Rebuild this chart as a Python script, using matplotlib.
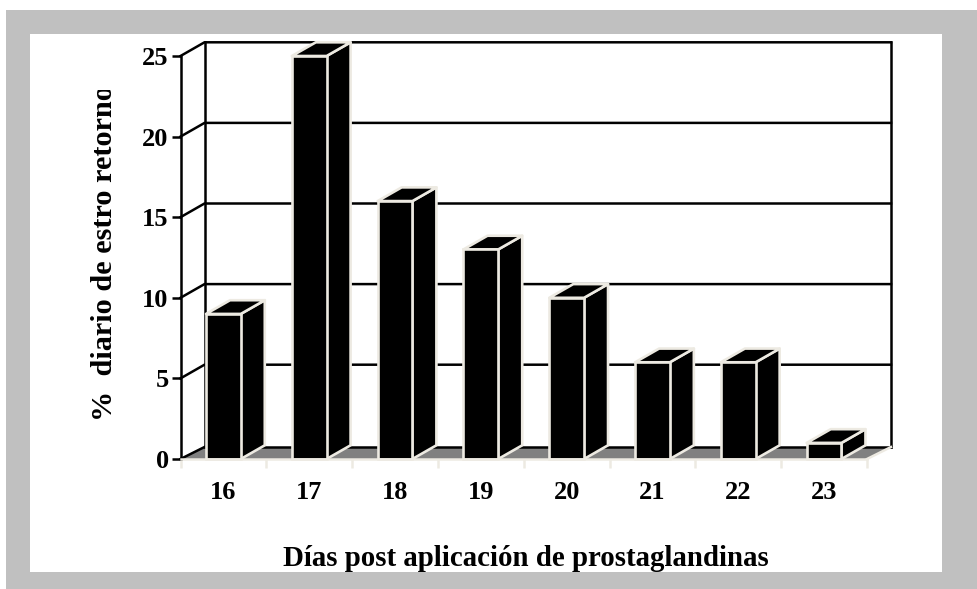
import matplotlib
matplotlib.use("Agg")
from matplotlib import pyplot
from matplotlib.patches import Rectangle
from matplotlib.transforms import Bbox

# chart values
days = ["16", "17", "18", "19", "20", "21", "22", "23"]
values = [9, 25, 16, 13, 10, 6, 6, 1]
yticks = [0, 5, 10, 15, 20, 25]
ylabel = "%  diario de estro retorno"
xlabel = "Días post aplicación de prostaglandinas"

W, H = 978, 589
CREAM = "#EDEAE2"
GREY = "#808080"
FRAME = "#C0C0C0"

pyplot.rcParams["font.family"] = ["Liberation Serif", "DejaVu Serif"]
pyplot.rcParams["font.weight"] = "bold"

figure = pyplot.figure(figsize=(W / 100, H / 100), dpi=100, facecolor="white")


def px_rect(x0, y0, x1, y1, color):
    # rectangle given in image pixels, y going down
    figure.patches.append(Rectangle((x0 / W, 1 - y1 / H), (x1 - x0) / W, (y1 - y0) / H,
                                    transform=figure.transFigure, facecolor=color,
                                    edgecolor="none", zorder=-5))


px_rect(6, 10, W, H, FRAME)
px_rect(30, 34, 942, 572, "white")

# axes are the front plane of the 3d box
left, right, bottom, top = 180.5, 867, 459, 56
axes = figure.add_axes([left / W, 1 - bottom / H, (right - left) / W, (bottom - top) / H])
axes.set_xlim(0, len(days))
axes.set_ylim(0, 25)
axes.patch.set_visible(False)

# depth of the box, in data units
dx = 24 / ((right - left) / len(days))
dy = 13.7 / ((bottom - top) / 25)
dy_floor = 12 / ((bottom - top) / 25)
n = len(days)
kw = dict(clip_on=False, solid_capstyle="projecting")
LW = 1.8

# floor
axes.fill([0, dx, n + dx, n], [0, dy_floor, dy_floor, 0], color=GREY, lw=0, clip_on=False, zorder=1)

# walls and grid
for t in yticks:
    if t > 0:
        axes.plot([0, dx, n + dx], [t, t + dy, t + dy], color="black", lw=LW, zorder=1.5, **kw)
    else:
        axes.plot([dx, n + dx], [dy_floor, dy_floor], color="black", lw=LW, zorder=1.5, **kw)
        axes.plot([0, dx], [0, dy_floor], color="black", lw=LW, zorder=1.5, **kw)
axes.plot([dx, dx], [dy_floor, 25 + dy], color="black", lw=LW, zorder=1.5, **kw)
axes.plot([n + dx, n + dx], [dy_floor, 25 + dy], color="black", lw=LW, zorder=1.5, **kw)
axes.plot([n, n + dx], [0, dy_floor], color=CREAM, lw=LW, zorder=1.6, clip_on=False)

# bars
bw = 0.405
EW = 1.9
for i, v in enumerate(values):
    x0 = i + 0.5 - bw / 2
    x1 = x0 + bw
    style = dict(facecolor="black", edgecolor=CREAM, lw=EW, clip_on=False, zorder=3,
                 joinstyle="round")
    axes.fill([x1, x1 + dx, x1 + dx, x1], [0, dy, v + dy, v], **style)
    axes.fill([x0, x1, x1 + dx, x0 + dx], [v, v, v + dy, v + dy], **style)
axes.bar([i + 0.5 for i in range(n)], values, width=bw, color="black", edgecolor=CREAM,
         linewidth=EW, zorder=3.2, clip_on=False)

# ticks
axes.set_xticks(range(n + 1))
axes.set_xticklabels([])
axes.set_xticks([i + 0.5 for i in range(n)], labels=days, minor=True)
axes.tick_params(axis="x", which="major", length=6.5, width=LW, color=CREAM)
axes.tick_params(axis="x", which="minor", length=0, pad=16, labelsize=19)
axes.set_yticks(yticks)
axes.tick_params(axis="y", length=6.5, width=LW, color="black", pad=2, labelsize=19)
for s in ("top", "right"):
    axes.spines[s].set_visible(False)
axes.spines["left"].set_linewidth(LW)
axes.spines["bottom"].set_linewidth(LW)
axes.spines["bottom"].set_color(CREAM)
axes.spines["bottom"].set_zorder(3.5)

figure.text(526 / W, 1 - 566 / H, xlabel, ha="center", va="baseline", fontsize=20.75)
lab = figure.text(105 / W, 1 - 421 / H, ylabel, rotation=90, ha="center", va="bottom",
                  fontsize=21.8)
# the end of the axis title is cut off in the original
lab.set_clip_on(True)
lab.set_clip_box(Bbox([[60, H - 421], [150, H - 90]]))

figure.savefig("out.png", dpi=100)
